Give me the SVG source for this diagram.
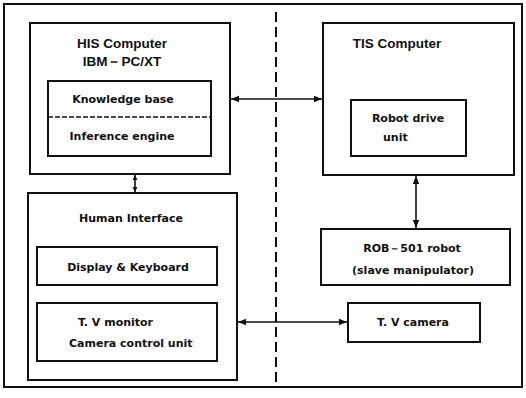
<svg xmlns="http://www.w3.org/2000/svg" width="526" height="398" viewBox="0 0 526 398">
<style>
.box{fill:none;stroke:#111;stroke-width:2}
.t{font-family:"DejaVu Sans","Liberation Sans",sans-serif;font-weight:bold;font-size:11px;fill:#111}
.h{font-family:"Liberation Sans",Arial,sans-serif;font-weight:bold;font-size:13.5px;fill:#111}
.c{stroke:#111;stroke-width:1.6;fill:none}
</style>
<defs>
<marker id="ah" viewBox="0 0 10 10" refX="10" refY="5" markerWidth="8" markerHeight="8" orient="auto-start-reverse" markerUnits="userSpaceOnUse">
<path d="M0,1 L10,5 L0,9 z" fill="#111"/>
</marker>
<marker id="sh" viewBox="0 0 10 10" refX="10" refY="5" markerWidth="5" markerHeight="6" orient="auto-start-reverse" markerUnits="userSpaceOnUse">
<path d="M0,0 L10,5 L0,10 z" fill="#111"/>
</marker>
</defs>
<rect width="526" height="398" fill="#fff"/>
<rect x="4" y="4" width="518" height="383" class="box"/>
<line x1="276" y1="12" x2="276" y2="387" stroke="#111" stroke-width="2" stroke-dasharray="10,5"/>

<g id="his">
<rect x="30" y="23" width="200" height="151" class="box"/>
<text x="122" y="48" class="h" text-anchor="middle">HIS Computer</text>
<text x="122" y="66" class="h" text-anchor="middle">IBM－PC/XT</text>
</g>
<g id="kb">
<rect x="48" y="81" width="163" height="75" class="box"/>
<text x="123" y="103" class="t" text-anchor="middle">Knowledge base</text>
<line x1="48" y1="117" x2="211" y2="117" stroke="#111" stroke-width="1.5" stroke-dasharray="5,2"/>
<text x="122" y="140" class="t" text-anchor="middle">Inference engine</text>
</g>
<g id="tis">
<rect x="323" y="23" width="191" height="152" class="box"/>
<text x="397" y="48" class="h" text-anchor="middle">TIS Computer</text>
</g>
<g id="rdu">
<rect x="351" y="100" width="115" height="56" class="box"/>
<text x="408" y="122" class="t" text-anchor="middle">Robot drive</text>
<text x="383" y="141" class="t">unit</text>
</g>
<g id="hi">
<rect x="28" y="193" width="209" height="187" class="box"/>
<text x="131" y="222" class="t" text-anchor="middle">Human Interface</text>
</g>
<g id="dk">
<rect x="37" y="247" width="180" height="38" class="box"/>
<text x="128" y="271" class="t" text-anchor="middle">Display &amp; Keyboard</text>
</g>
<g id="tvm">
<rect x="37" y="303" width="180" height="58" class="box"/>
<text x="78" y="326" class="t">T. V monitor</text>
<text x="69" y="347" class="t">Camera control unit</text>
</g>
<g id="rob">
<rect x="321" y="229" width="189" height="56" class="box"/>
<text x="412" y="252" class="t" text-anchor="middle" font-size="12">ROB－501 robot</text>
<text x="413" y="274" class="t" text-anchor="middle">(slave manipulator)</text>
</g>
<g id="cam">
<rect x="348" y="303" width="132" height="39" class="box"/>
<text x="413" y="326" class="t" text-anchor="middle">T. V camera</text>
</g>

<g id="connectors">
<line x1="231" y1="99" x2="322" y2="99" class="c" marker-start="url(#ah)" marker-end="url(#ah)"/>
<line x1="416" y1="176" x2="416" y2="228" class="c" marker-start="url(#ah)" marker-end="url(#ah)"/>
<line x1="238" y1="322" x2="347" y2="322" class="c" marker-start="url(#ah)" marker-end="url(#ah)"/>
<line x1="135" y1="175" x2="135" y2="192" class="c" stroke-width="2" marker-start="url(#sh)" marker-end="url(#sh)"/>
</g>
</svg>
